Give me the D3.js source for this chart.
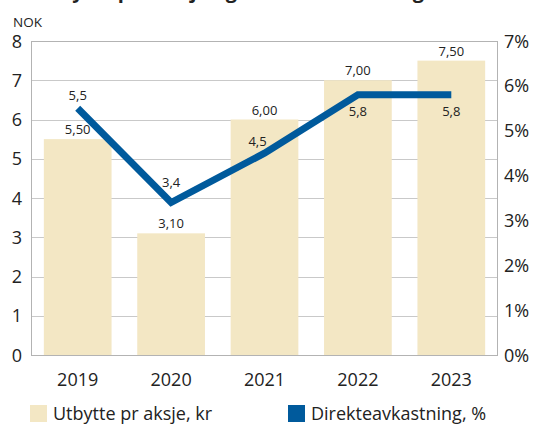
<!DOCTYPE html>
<html>
<head>
<meta charset="utf-8">
<script src="https://cdn.jsdelivr.net/npm/d3@7"></script>
<style>
  html, body { margin: 0; padding: 0; background: #fff; }
  svg { display: block; font-family: "Open Sans", "Lato", sans-serif; }
</style>
</head>
<body>
<svg id="chart" width="533" height="425"></svg>
<script>
// Dividend per share (NOK) and dividend yield (%) by year
const years = ["2019", "2020", "2021", "2022", "2023"];
const dividend = [5.50, 3.10, 6.00, 7.00, 7.50];
const yieldPct = [5.5, 3.4, 4.5, 5.8, 5.8];
const leftTicks = [0, 1, 2, 3, 4, 5, 6, 7, 8];
const rightTicks = [0, 1, 2, 3, 4, 5, 6, 7];
const legendLabels = ["Utbytte pr aksje, kr", "Direkteavkastning, %"];

const svg = d3.select("#chart");
const textColor = "#222";
const barColor = "#f3e7c4";
const lineColor = "#005a9c";

const plot = { left: 31, right: 498, top: 41, bottom: 355 };

const x = d3.scaleBand().domain(years).range([plot.left, plot.right])
  .paddingInner(0.275).paddingOuter(0.1375);
const yL = d3.scaleLinear().domain([0, 8]).range([plot.bottom, plot.top]);
const yR = d3.scaleLinear().domain([0, 7]).range([plot.bottom, plot.top]);

const fmt2 = d => d3.format(".2f")(d).replace(".", ",");
const fmt1 = d => d3.format(".1f")(d).replace(".", ",");

// Title (sits above the top edge; only its descenders reach into view)
svg.append("text").attr("x", 36).attr("y", -2)
  .attr("font-size", 19).attr("font-weight", 700).attr("fill", textColor)
  .attr("textLength", 388).attr("lengthAdjust", "spacingAndGlyphs")
  .text("Utbytte per aksje og direkteavkastning");

svg.append("text").attr("x", 13).attr("y", 27)
  .attr("font-size", 13.5).attr("fill", textColor).text("NOK");

// Horizontal gridlines
svg.append("g").selectAll("line").data(leftTicks.slice(1, -1)).join("line")
  .attr("x1", plot.left).attr("x2", plot.right)
  .attr("y1", d => Math.round(yL(d)) + 0.5).attr("y2", d => Math.round(yL(d)) + 0.5)
  .attr("stroke", "#c9c9c9").attr("stroke-width", 1);

// Bars
svg.append("g").selectAll("rect").data(dividend).join("rect")
  .attr("x", (d, i) => x(years[i])).attr("width", x.bandwidth())
  .attr("y", d => yL(d)).attr("height", d => yL(0) - yL(d))
  .attr("fill", barColor);

// Frame
svg.append("rect")
  .attr("x", plot.left + 0.5).attr("y", Math.round(plot.top) + 0.5)
  .attr("width", plot.right - plot.left - 1).attr("height", plot.bottom - plot.top)
  .attr("fill", "none").attr("stroke", "#b3b3b3").attr("stroke-width", 1);

// Bar value labels
svg.append("g").selectAll("text").data(dividend).join("text")
  .attr("x", (d, i) => x(years[i]) + x.bandwidth() / 2)
  .attr("y", d => yL(d) - 5)
  .attr("text-anchor", "middle").attr("font-size", 13).attr("fill", textColor)
  .text(fmt2);

// Yield line
const cx = (i) => x(years[i]) + x.bandwidth() / 2;
const line = d3.line().x((d, i) => cx(i)).y(d => yR(d));
svg.append("path").datum(yieldPct)
  .attr("d", line).attr("fill", "none")
  .attr("stroke", lineColor).attr("stroke-width", 7)
  .attr("stroke-linejoin", "miter").attr("stroke-linecap", "butt");

// Yield labels
const lblDx = [0, 0, -7, 0, 0];
const lblDy = [-8, -15, -7, 21, 21];
svg.append("g").selectAll("text").data(yieldPct).join("text")
  .attr("x", (d, i) => cx(i) + lblDx[i])
  .attr("y", (d, i) => yR(d) + lblDy[i])
  .attr("text-anchor", "middle").attr("font-size", 13).attr("fill", textColor)
  .text(fmt1);

// Left axis labels
svg.append("g").selectAll("text").data(leftTicks).join("text")
  .attr("x", 22).attr("y", d => yL(d) + 6.5)
  .attr("text-anchor", "end").attr("font-size", 18).attr("fill", textColor)
  .text(d => d);

// Right axis labels
svg.append("g").selectAll("text").data(rightTicks).join("text")
  .attr("x", 504).attr("y", d => yR(d) + 6.5)
  .attr("text-anchor", "start").attr("font-size", 18).attr("fill", textColor)
  .text(d => d + "%");

// Year labels
svg.append("g").selectAll("text").data(years).join("text")
  .attr("x", d => x(d) + x.bandwidth() / 2).attr("y", 386)
  .attr("text-anchor", "middle").attr("font-size", 18).attr("fill", textColor)
  .text(d => d);

// Legend
const legendX = [30, 288];
const legendColors = [barColor, lineColor];
const lg = svg.append("g").selectAll("g").data(legendLabels).join("g")
  .attr("transform", (d, i) => `translate(${legendX[i]},405)`);
lg.append("rect").attr("width", 17).attr("height", 17)
  .attr("fill", (d, i) => legendColors[i]);
lg.append("text").attr("x", 23).attr("y", 15)
  .attr("font-size", 18).attr("fill", textColor).text(d => d);
</script>
</body>
</html>
